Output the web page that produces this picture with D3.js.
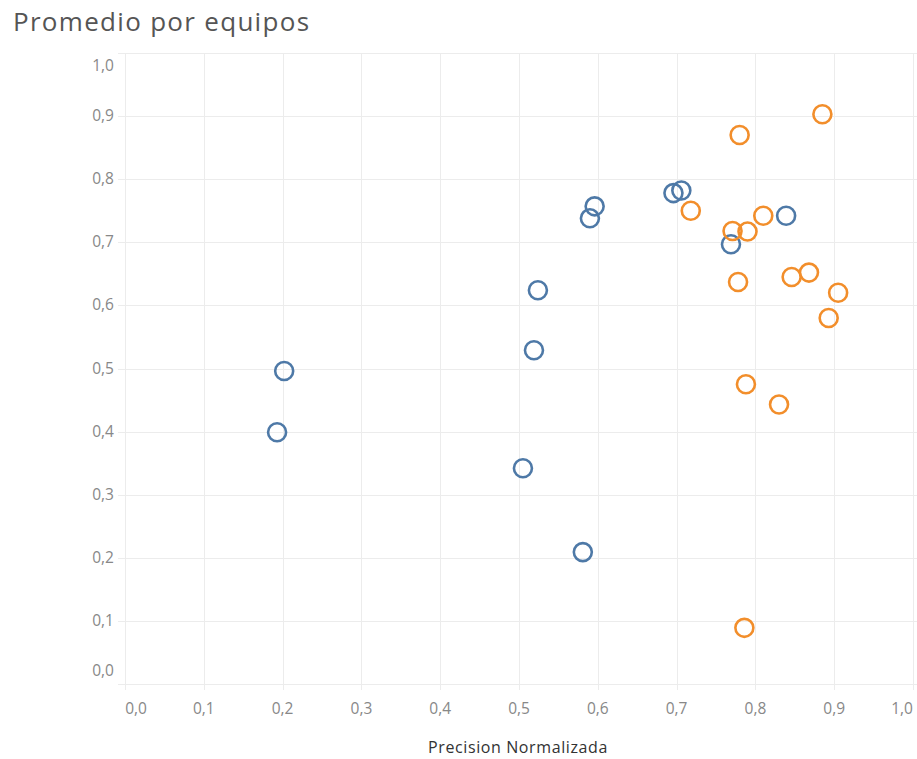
<!DOCTYPE html>
<html>
<head>
<meta charset="utf-8">
<script src="https://cdn.jsdelivr.net/npm/d3@7"></script>
<style>
	body { margin: 0; background: #fff; font-family: "Open Sans", Lato, sans-serif; }
</style>
</head>
<body>
<script>
// data
var xTicks = [0, 0.1, 0.2, 0.3, 0.4, 0.5, 0.6, 0.7, 0.8, 0.9, 1.0];
var yTicks = [0, 0.1, 0.2, 0.3, 0.4, 0.5, 0.6, 0.7, 0.8, 0.9, 1.0];

var blueX = [0.202, 0.193, 0.505, 0.519, 0.524, 0.581, 0.590, 0.596, 0.696, 0.706, 0.769, 0.839];
var blueY = [0.496, 0.399, 0.342, 0.529, 0.624, 0.209, 0.738, 0.757, 0.778, 0.782, 0.697, 0.742];

var orangeX = [0.885, 0.780, 0.718, 0.771, 0.790, 0.810, 0.778, 0.846, 0.868, 0.905, 0.893, 0.788, 0.830, 0.786];
var orangeY = [0.903, 0.870, 0.750, 0.718, 0.717, 0.742, 0.637, 0.645, 0.652, 0.620, 0.580, 0.475, 0.443, 0.089];

var width = 917, height = 759;
var plotLeft = 125, plotRight = 913, plotTop = 53, plotBottom = 684;

var fmt = function(d) { return d3.format(".1f")(d).replace(".", ","); };

var svg = d3.select("body").append("svg")
	.attr("width", width)
	.attr("height", height);

var x = d3.scaleLinear().domain([0, 1]).range([plotLeft, plotRight]);
var y = d3.scaleLinear().domain([0, 1]).range([plotBottom, plotTop]);

svg.append("text")
	.attr("x", 13)
	.attr("y", 31)
	.attr("fill", "#555")
	.attr("font-size", 26)
	.attr("letter-spacing", 1.3)
	.text("Promedio por equipos");

/* grid */
var grid = svg.append("g").attr("stroke", "#ececec").attr("stroke-width", 1);

grid.selectAll("line.v")
	.data(xTicks)
	.enter().append("line")
		.attr("x1", function(d) { return Math.round(x(d)) + 0.5; })
		.attr("x2", function(d) { return Math.round(x(d)) + 0.5; })
		.attr("y1", plotTop)
		.attr("y2", plotBottom + 6);

grid.selectAll("line.h")
	.data(yTicks)
	.enter().append("line")
		.attr("y1", function(d) { return Math.round(y(d)) + 0.5; })
		.attr("y2", function(d) { return Math.round(y(d)) + 0.5; })
		.attr("x1", plotLeft - 7)
		.attr("x2", width);

/* tick labels, edge ones pulled inwards */
svg.append("g")
	.attr("fill", "#888")
	.attr("font-size", 15.5)
	.selectAll("text")
	.data(xTicks)
	.enter().append("text")
		.attr("x", function(d, i) { return x(d) + (i == 0 ? 11 : i == xTicks.length - 1 ? -11 : 0); })
		.attr("y", 714)
		.attr("text-anchor", "middle")
		.text(fmt);

svg.append("g")
	.attr("fill", "#888")
	.attr("font-size", 15.5)
	.selectAll("text")
	.data(yTicks)
	.enter().append("text")
		.attr("x", 114)
		.attr("y", function(d, i) { return y(d) + 5 + (i == 0 ? -13 : i == yTicks.length - 1 ? 13 : 0); })
		.attr("text-anchor", "end")
		.text(fmt);

svg.append("text")
	.attr("x", 518)
	.attr("y", 753)
	.attr("text-anchor", "middle")
	.attr("fill", "#333")
	.attr("font-size", 16)
	.attr("letter-spacing", 0.6)
	.text("Precision Normalizada");

/* points */
function dots(xs, ys, color) {
	svg.append("g")
		.selectAll("circle")
		.data(xs)
		.enter().append("circle")
			.attr("cx", function(d) { return x(d); })
			.attr("cy", function(d, i) { return y(ys[i]); })
			.attr("r", 9)
			.attr("fill", "none")
			.attr("stroke", color)
			.attr("stroke-width", 2.6);
}

dots(blueX, blueY, "#4e79a7");
dots(orangeX, orangeY, "#f28e2b");
</script>
</body>
</html>
